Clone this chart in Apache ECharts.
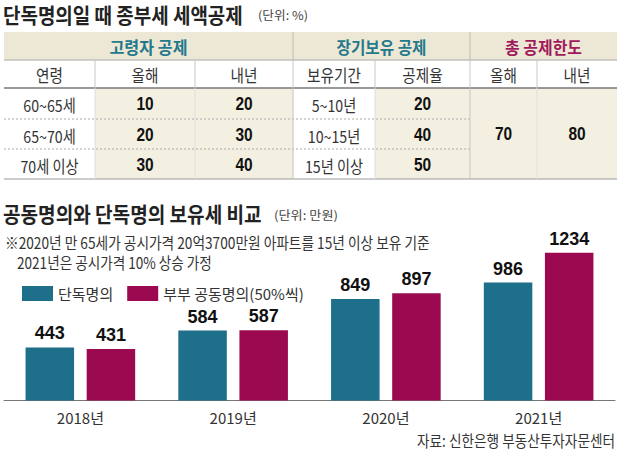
<!DOCTYPE html>
<html>
<head>
<meta charset="utf-8">
<script src="https://cdn.jsdelivr.net/npm/echarts@6/dist/echarts.min.js"></script>
<style>
  html, body { margin: 0; padding: 0; background: #fff; }
  #chart { width: 620px; height: 450px; }
</style>
</head>
<body>
<div id="chart"></div>
<script>
// ---------- DATA ----------
const tableTitle = '단독명의일 때 종부세 세액공제';
const tableUnit = '(단위: %)';
const groupHeaders = ['고령자 공제', '장기보유 공제', '총 공제한도'];
const subHeaders = ['연령', '올해', '내년', '보유기간', '공제율', '올해', '내년'];
const ageBands = ['60~65세', '65~70세', '70세 이상'];
const elderThisYear = [10, 20, 30];
const elderNextYear = [20, 30, 40];
const holdPeriods = ['5~10년', '10~15년', '15년 이상'];
const holdRates = [20, 40, 50];
const totalLimit = [70, 80];

const chartTitle = '공동명의와 단독명의 보유세 비교';
const chartUnit = '(단위: 만원)';
const noteLines = ['※2020년 만 65세가 공시가격 20억3700만원 아파트를 15년 이상 보유 기준', '2021년은 공시가격 10% 상승 가정'];
const years = ['2018년', '2019년', '2020년', '2021년'];
const seriesNames = ['단독명의', '부부 공동명의(50%씩)'];
const soleOwner = [443, 584, 849, 986];
const jointOwner = [431, 587, 897, 1234];
const sourceText = '자료: 신한은행 부동산투자자문센터';

// ---------- LAYOUT / STYLE ----------
const KR = '"Noto Sans CJK KR", "Noto Sans", sans-serif';
const NUM = '"Liberation Sans", Arial, sans-serif';
const TEAL = '#1d6f8a';
const MAGENTA = '#9b0a50';
const HEAD_TEAL = '#24788c';
const HEAD_MAG = '#a01a5c';
const colX = [4, 95, 195, 293, 375, 470, 537, 617];
const rowY = [32, 60, 88, 119, 149, 179];
const beigeHead = '#ede8d5';
const beigeCell = '#f4f0e1';

const mctx = document.createElement('canvas').getContext('2d');
function measure(text, size, weight, family) {
  mctx.font = (weight || 'normal') + ' ' + size + 'px ' + family;
  return mctx.measureText(text).width;
}
function T(x, y, text, o) {
  o = o || {};
  const size = o.size || 15, weight = o.weight || 'normal', family = o.family || KR;
  let sx = o.scaleX || 1;
  if (o.width) sx = o.width / measure(text, size, weight, family);
  return {
    type: 'text', x: x, y: y, scaleX: sx, z: 10, silent: true,
    style: {
      text: text, x: 0, y: 0, fontSize: size, fontWeight: weight, fontFamily: family,
      lineHeight: Math.round(size * 1.1),
      fill: o.color || '#333', align: o.align || 'left', verticalAlign: 'middle',
      textAlign: o.align || 'left', textVerticalAlign: 'middle'
    }
  };
}
function rect(x, y, w, h, fill) {
  return { type: 'rect', shape: { x: x, y: y, width: w, height: h }, style: { fill: fill }, silent: true, z: 1 };
}
function line(x1, y1, x2, y2, stroke, lw, dash) {
  return { type: 'line', shape: { x1: x1, y1: y1, x2: x2, y2: y2 },
    style: { stroke: stroke, lineWidth: lw || 1, lineDash: dash || null }, silent: true, z: 2 };
}
const cx = i => (colX[i] + colX[i + 1]) / 2;
const cy = r => (rowY[r] + rowY[r + 1]) / 2 + 1;
const numStyle = { size: 18, weight: 'bold', family: NUM, color: '#111', align: 'center', scaleX: 0.86 };

const g = [];
// titles
g.push(T(3, 14, tableTitle, { size: 21, weight: 600, color: '#222', width: 240 }));
g.push(T(258, 15, tableUnit, { size: 12, color: '#444', width: 50 }));

// table backgrounds
g.push(rect(colX[0], rowY[0], colX[7] - colX[0], rowY[1] - rowY[0], beigeHead));
[1, 2, 4, 5, 6].forEach(c => g.push(rect(colX[c], rowY[2], colX[c + 1] - colX[c], rowY[5] - rowY[2], beigeCell)));

// table lines
g.push(line(colX[0], rowY[1], colX[7], rowY[1], '#a8a8a8', 1));
g.push(line(colX[0], rowY[2], colX[7], rowY[2], '#777', 1.5));
g.push(line(colX[0], rowY[5], colX[7], rowY[5], '#999', 1));
g.push(line(colX[0], rowY[3], colX[5], rowY[3], '#aaa', 1, [2, 2]));
g.push(line(colX[0], rowY[4], colX[5], rowY[4], '#aaa', 1, [2, 2]));
[3, 5].forEach(c => g.push(line(colX[c], rowY[0], colX[c], rowY[1], '#bbb', 1)));
[1, 2, 3, 4, 5, 6].forEach(c => g.push(line(colX[c], rowY[1], colX[c], rowY[2], '#c8c8c8', 1)));
[1, 2, 3, 4, 5, 6].forEach(c => g.push(line(colX[c], rowY[2], colX[c], rowY[5], (c === 3 || c === 5) ? '#c4c4c4' : '#dedede', 1)));

// group headers
g.push(T((colX[0] + colX[3]) / 2, cy(0), groupHeaders[0], { size: 17, weight: 'bold', color: HEAD_TEAL, align: 'center', width: 78 }));
g.push(T((colX[3] + colX[5]) / 2, cy(0), groupHeaders[1], { size: 17, weight: 'bold', color: HEAD_TEAL, align: 'center', width: 90 }));
g.push(T((colX[5] + colX[7]) / 2, cy(0), groupHeaders[2], { size: 17, weight: 'bold', color: HEAD_MAG, align: 'center', width: 77 }));
// sub headers
subHeaders.forEach((s, i) => g.push(T(cx(i), cy(1), s, { size: 17, color: '#333', align: 'center', scaleX: 0.86 })));
// body
for (let r = 0; r < 3; r++) {
  g.push(T(cx(0), cy(2 + r), ageBands[r], { size: 16.5, color: '#333', align: 'center', scaleX: 0.86 }));
  g.push(T(cx(1), cy(2 + r), String(elderThisYear[r]), numStyle));
  g.push(T(cx(2), cy(2 + r), String(elderNextYear[r]), numStyle));
  g.push(T(cx(3), cy(2 + r), holdPeriods[r], { size: 16.5, color: '#333', align: 'center', scaleX: 0.86 }));
  g.push(T(cx(4), cy(2 + r), String(holdRates[r]), numStyle));
}
const midY = (rowY[2] + rowY[5]) / 2 + 1;
g.push(T(cx(5), midY, String(totalLimit[0]), numStyle));
g.push(T(cx(6), midY, String(totalLimit[1]), numStyle));

// chart titles and notes
g.push(T(3, 213, chartTitle, { size: 21, weight: 600, color: '#222', width: 259 }));
g.push(T(274, 215, chartUnit, { size: 12, color: '#444', width: 64 }));
g.push(T(5, 242, noteLines[0], { size: 15.5, color: '#333', width: 425 }));
g.push(T(17, 262, noteLines[1], { size: 15.5, color: '#333', width: 195 }));
g.push(T(615, 440, sourceText, { size: 16, color: '#333', align: 'right', width: 198 }));

const chart = echarts.init(document.getElementById('chart'), null, { renderer: 'svg' });
chart.setOption({
  animation: false,
  backgroundColor: '#fff',
  textStyle: { fontFamily: KR },
  grid: { left: 4, right: 5, top: 221, bottom: 49.5, containLabel: false },
  legend: {
    left: 17, top: 281, itemWidth: 31, itemHeight: 15, itemGap: 14,
    icon: 'rect',
    textStyle: { fontSize: 15, color: '#333', fontFamily: KR },
    data: seriesNames
  },
  xAxis: {
    type: 'category', data: years,
    axisLine: { lineStyle: { color: '#777', width: 1 } },
    axisTick: { show: false },
    axisLabel: { fontSize: 15, color: '#333', margin: 9, fontFamily: KR }
  },
  yAxis: { type: 'value', min: 0, max: 1500, show: false, splitLine: { show: false } },
  series: [
    {
      name: seriesNames[0], type: 'bar', data: soleOwner, barWidth: 48.5, barGap: '26%',
      itemStyle: { color: TEAL },
      label: { show: true, position: 'top', distance: 5, fontSize: 18, fontWeight: 'bold', fontFamily: NUM, color: '#111' }
    },
    {
      name: seriesNames[1], type: 'bar', data: jointOwner, barWidth: 48.5, barGap: '26%',
      itemStyle: { color: MAGENTA },
      label: { show: true, position: 'top', distance: 5, fontSize: 18, fontWeight: 'bold', fontFamily: NUM, color: '#111' }
    }
  ],
  graphic: { elements: g }
});
</script>
</body>
</html>
